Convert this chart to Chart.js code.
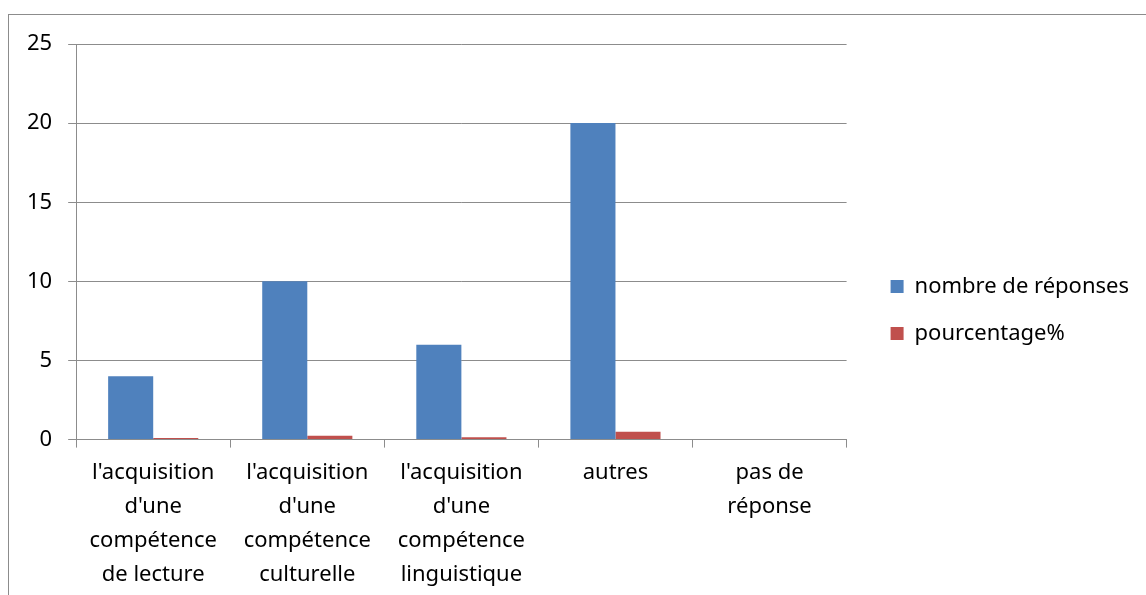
<!DOCTYPE html>
<html>
<head>
<meta charset="utf-8">
<script src="https://cdn.jsdelivr.net/npm/chart.js@4"></script>
<style>
  html, body { margin: 0; padding: 0; background: #fff; }
  #wrap { width: 1146px; height: 595px; position: relative; }
</style>
</head>
<body>
<div id="wrap"><canvas id="chart"></canvas></div>
<script>
// catégories (libellés sur plusieurs lignes)
const categories = [
    ["l'acquisition", "d'une", "compétence", "de lecture"],
    ["l'acquisition", "d'une", "compétence", "culturelle"],
    ["l'acquisition", "d'une", "compétence", "linguistique"],
    ["autres"],
    ["pas de", "réponse"]
];
const nombreReponses = [4, 10, 6, 20, 0];
const pourcentage = [0.1, 0.25, 0.15, 0.5, 0];
const yTicks = [0, 5, 10, 15, 20, 25];

const FONT = "'Noto Sans', 'Liberation Sans', sans-serif";

// cadre gris autour du graphique
const frame = {
    id: 'frame',
    beforeDraw(chart) {
        const c = chart.ctx;
        c.save();
        c.strokeStyle = '#8c8c8c';
        c.lineWidth = 1;
        c.strokeRect(8.5, 14.5, chart.width + 10, chart.height);
        c.restore();
    }
};

// décale un peu la légende (comme dans Excel)
const legendShift = {
    id: 'legendShift',
    afterLayout(chart) {
        const lg = chart.legend;
        if (!lg) return;
        lg.left += 19; lg.right += 19;
        lg.top -= 8; lg.bottom -= 8;
    }
};

const ctx = document.getElementById('chart').getContext('2d');
new Chart(ctx, {
    type: 'bar',
    data: {
        labels: categories,
        datasets: [
            {
                label: 'nombre de réponses',
                data: nombreReponses,
                backgroundColor: '#4f81bd',
                borderWidth: 0
            },
            {
                label: 'pourcentage%',
                data: pourcentage,
                backgroundColor: '#c0504d',
                borderWidth: 0
            }
        ]
    },
    options: {
        responsive: true,
        maintainAspectRatio: false,
        animation: false,
        datasets: { bar: { categoryPercentage: 0.585, barPercentage: 1 } },
        layout: { padding: { top: 44, left: 11, right: 26, bottom: 3 } },
        scales: {
            x: {
                afterFit(axis) { axis.height -= 8; },
                grid: { drawOnChartArea: false, drawTicks: true, tickLength: 8, color: '#8c8c8c', offset: true },
                border: { color: '#8c8c8c', width: 1 },
                ticks: {
                    color: '#000',
                    font: { family: FONT, size: 22, lineHeight: 1.55 },
                    maxRotation: 0,
                    autoSkip: false,
                    padding: 8
                }
            },
            y: {
                min: 0,
                max: 25,
                afterBuildTicks(axis) { axis.ticks = yTicks.map(v => ({ value: v })); },
                grid: { color: '#8c8c8c', tickLength: 8 },
                border: { color: '#8c8c8c', width: 1 },
                ticks: {
                    color: '#000',
                    font: { family: FONT, size: 22 },
                    padding: 16
                }
            }
        },
        plugins: {
            legend: {
                position: 'right',
                align: 'center',
                labels: {
                    color: '#000',
                    font: { family: FONT, size: 22 },
                    boxWidth: 13,
                    boxHeight: 13,
                    padding: 25
                }
            },
            tooltip: { enabled: false }
        }
    },
    plugins: [frame, legendShift]
});
</script>
</body>
</html>
